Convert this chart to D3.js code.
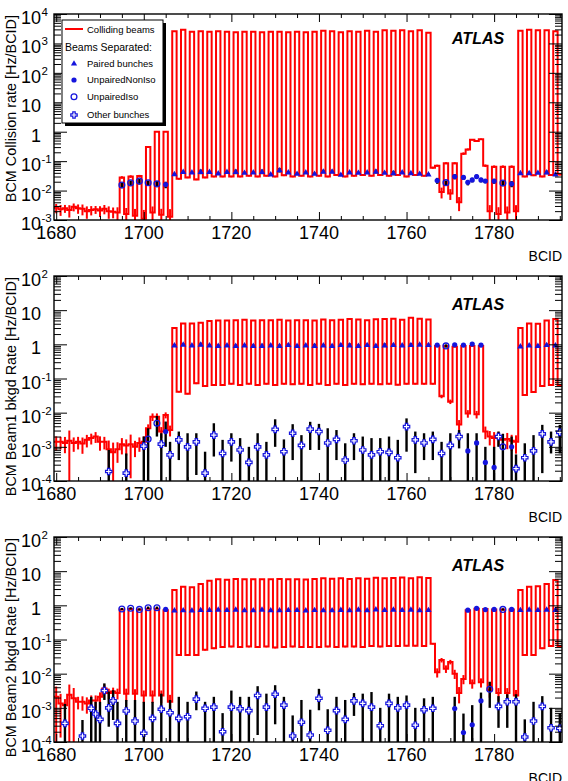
<!DOCTYPE html>
<html>
<head>
<meta charset="utf-8">
<script src="https://cdn.jsdelivr.net/npm/d3@7"></script>
<style>
body { margin: 0; background: #fff; }
svg text { font-family: "Liberation Sans", Arial, Helvetica, sans-serif; }
</style>
</head>
<body>
<svg width="568" height="781"></svg>
<script>
// **** data: one value per BCID, starting at firstBcid ****
var firstBcid = 1680;
var xMajor = [1680, 1700, 1720, 1740, 1760, 1780];
var xMinor = [1685, 1690, 1695, 1705, 1710, 1715, 1725, 1730, 1735, 1745, 1750, 1755, 1765, 1770, 1775, 1785, 1790, 1795];

// colliding beams (red histogram)
var p1Rate = [
  2.6e-3, 2.3e-3, 2.5e-3, 2.2e-3, 2.8e-3, 2.5e-3, 2.4e-3, 2.0e-3, 2.2e-3, 2.3e-3, 2.1e-3, 2.4e-3, 2.0e-3, 1.9e-3, 1.8e-3,
  .028, 1.6e-3, .030, 1.4e-3, .031, 1.1e-3, .30, 1.8e-3, 1.0, 1.5e-3, 1.0, 1.3e-3,
  2600, .025, 2900, .028, 2500, .024, 2600, .028, 2500, .030, 2600, .030, 2500, .030, 2400, .030, 2500, .032, 2500, .030,
  2400, .032, 2500, .030, 2500, .033, 2400, .030, 2500, .032, 2400, .030, 2500, .032, 2700, .030, 2600, .034, 2400, .030,
  2600, .032, 2500, .034, 2700, .032, 2500, .034, 2800, .032, 2700, .034, 2800, .030, 2600, .034, 2800, .032, 2300,
  .060, .070, .009, .085, .008, .085, .004, .18, .25, .53, .48, .56, .070, .0020, .065, .0016, .065, .0018, .065, .0020,
  2700, .030, 2900, .033, 2800, .030, 2800, .034, 2600, .035
];
var p1RateErr = [
  .35, .4, .3, .45, .3, .35, .4, .45, .35, .3, .4, .35, .45, .4, .5,
  .1, .6, .1, .7, .1, 1, .04, .6, .02, .6, .02, .8,
  0, .06, 0, .06, 0, .06, 0, .06, 0, .06,
  0, .06, 0, .06, 0, .06, 0, .06, 0, .06,
  0, .06, 0, .06, 0, .06, 0, .06, 0, .06,
  0, .06, 0, .06, 0, .06, 0, .06, 0, .06,
  0, .06, 0, .06, 0, .06, 0, .06, 0, .06,
  0, .06, 0, .06, 0, .06, 0, .06,
  0,
  .08, .08, .4, .08, .4, .08, .5, .1, .08, .05, .05, .05, .1, .6, .1, .7, .1, .6, .1, .6,
  0, .06, 0, .06, 0, .06, 0, .06, 0, .06
];

var p2Rate = [
  1.4e-3, 1.4e-3, 1.3e-3, 1.5e-3, 1.3e-3, 1.4e-3, 1.25e-3, 1.6e-3, 1.8e-3, 2.0e-3, 1.4e-3, 1.4e-3, 8.5e-4, 7e-4, 8.5e-4,
  1.2e-3, 1.1e-3, 1.2e-3, 1.0e-3, 1.3e-3, 1.4e-3, 3.5e-3, 7.6e-3, 7.6e-3, 2.8e-3, 8.5e-3, 3.1e-3,
  3.0, .041, 4.1, .036, 4.1, .072, 4.3, .06, 4.8, .065, 5.0, .065, 5.0, .07, 5.1, .065, 5.2, .07, 5.0, .065,
  5.1, .07, 5.1, .065, 5.2, .07, 5.0, .068, 5.1, .07, 5.1, .065, 5.0, .07, 5.3, .065, 5.1, .07, 5.2, .065,
  5.5, .07, 5.3, .068, 5.1, .07, 5.4, .068, 5.5, .07, 5.6, .066, 5.2, .07, 6.0, .07, 5.6, .07, 5.3,
  .07, .9, .03, .9, .021, .85, .0045, .9, .0095, .9, .009, .9, 2.8e-3, 2.0e-3, 1.8e-3, 1.9e-3, 1.6e-3, 1.7e-3, 1.5e-3, 1.4e-3,
  3.0, .033, 4.1, .04, 4.0, .06, 5.0, .065, 5.5, .065
];
var p2RateErr = [
  .45, .4, .5, 1, .45, .4, .5, .4, .35, .35, .45, .4, .8, .9, .6,
  .5, .5, .9, .5, .45, .45, .3, .25, .25, .35, .2, .35,
  0, .05, 0, .05, 0, .05, 0, .05, 0, .05,
  0, .05, 0, .05, 0, .05, 0, .05, 0, .05,
  0, .05, 0, .05, 0, .05, 0, .05, 0, .05,
  0, .05, 0, .05, 0, .05, 0, .05, 0, .05,
  0, .05, 0, .05, 0, .05, 0, .05, 0, .05,
  0, .05, 0, .05, 0, .05, 0, .05,
  0,
  .05, 0, .12, 0, .15, 0, .35, 0, .25, 0, .25, 0, .4, .45, .5, .45, .5, .5, .5, .55,
  0, .05, 0, .05, 0, .05, 0, .05, 0, .05
];

var p3Rate = [
  2.1e-3, 1.35e-3, 1.2e-3, 2.4e-3, 1.9e-3, 1.5e-3, 1.5e-3, 1.35e-3, 1.65e-3, 1.65e-3, 2.1e-3, 3.7e-3, 2.7e-3, 3.0e-3, 2.7e-3,
  .75, 2.6e-3, .78, 2.6e-3, .75, 2.3e-3, .8, 2.3e-3, .8, 2.3e-3, .72, 1.5e-3,
  2.8, .035, 3.5, .035, 3.4, .035, 4.2, .05, 5.2, .055, 5.8, .06, 5.6, .062, 5.9, .06, 5.8, .062, 5.8, .06,
  5.8, .062, 5.8, .058, 5.9, .06, 5.8, .062, 5.8, .06, 5.7, .06, 5.9, .06, 6.2, .062, 6.0, .06, 6.2, .062,
  5.9, .062, 6.2, .06, 6.0, .065, 6.4, .062, 6.2, .065, 6.3, .064, 6.5, .066, 6.2, .066, 6.6, .064, 6.3,
  .075, .011, .025, .014, .022, .010, .0027, .007, .72, .0052, .80, .0056, .78, .0033, .75, .0027, .75, .0027, .75, .0023,
  2.8, .035, 3.5, .035, 3.6, .055, 4.2, .065, 5.5, .065
];
var p3RateErr = [
  1, .9, .5, 1, 1, .4, .45, .5, .4, .4, .35, .3, .35, .3, .35,
  0, .4, 0, .35, 0, .4, 0, .4, 0, .4, 0, .6,
  0, .05, 0, .05, 0, .05, 0, .05, 0, .05,
  0, .05, 0, .05, 0, .05, 0, .05, 0, .05,
  0, .05, 0, .05, 0, .05, 0, .05, 0, .05,
  0, .05, 0, .05, 0, .05, 0, .05, 0, .05,
  0, .05, 0, .05, 0, .05, 0, .05, 0, .05,
  0, .05, 0, .05, 0, .05, 0, .05,
  0,
  .05, .3, .15, .25, .15, .3, .5, .3, 0, .3, 0, .3, 0, .4, 0, .4, 0, .4, 0, .45,
  0, .05, 0, .05, 0, .05, 0, .05, 0, .05
];

// beams separated: paired bunches (same BCIDs in every panel)
var pairedBcids = [1707, 1709, 1711, 1713, 1715, 1717, 1719, 1721, 1723, 1725, 1727, 1729, 1731, 1733, 1735,
  1737, 1739, 1741, 1743, 1745, 1747, 1749, 1751, 1753, 1755, 1757, 1759, 1761, 1763, 1765,
  1786, 1788, 1790, 1792, 1794];
var p1PairedVal = [.037, .044, .042, .044, .044, .039, .044, .044, .041, .042, .044, .036, .050, .042, .038,
  .042, .038, .045, .045, .035, .042, .041, .042, .045, .041, .040, .042, .040, .038, .036,
  .040, .040, .041, .042, .036];
var p1PairedErr = [.003, .003, .003, .008, .003, .003, .003, .008, .003, .003, .008, .003, .009, .003, .003,
  .003, .003, .006, .006, .003, .003, .003, .003, .007, .003, .007, .003, .003, .003, .003,
  .003, .004, .003, .006, .003];
var p2PairedVal = [.95, 1.0, .95, 1.0, .95, .92, .95, .92, .95, .92, .92, .95, .92, .97, .92,
  .95, .92, .95, .92, .97, .95, .92, .97, .92, .95, .97, .95, .97, 1.0, .97,
  .88, .95, .92, .97, .95];
var p2PairedErr = [.08, .08, .08, .12, .08, .08, .08, .08, .08, .08, .12, .08, .08, .08, .08,
  .08, .12, .08, .08, .08, .12, .08, .08, .08, .12, .08, .08, .12, .08, .08,
  .08, .08, .08, .08, .08];
var p3PairedVal = [.72, .73, .72, .74, .74, .76, .74, .76, .73, .73, .76, .73, .73, .74, .74,
  .72, .74, .73, .73, .75, .73, .76, .73, .77, .74, .76, .74, .76, .73, .74,
  .74, .76, .74, .76, .75];
var p3PairedErr = [.05, .05, .05, .05, .05, .05, .05, .05, .05, .05, .05, .05, .05, .05, .05,
  .05, .05, .05, .05, .05, .05, .05, .05, .05, .05, .05, .05, .05, .05, .05,
  .05, .05, .05, .05, .05];

// [bcid, value, lower edge, upper edge]  (0 = error bar runs off the bottom)
var p1NonIso = [[1705, .016, .012, .020], [1767, .022, .017, .027], [1771, .030, .024, .036], [1773, .028, .023, .033],
  [1774, .019, .015, .023], [1775, .023, .019, .027], [1776, .030, .025, .035], [1777, .023, .019, .027],
  [1778, .021, .018, .024], [1780, .021, .017, .025], [1784, .017, .013, .021]];
var p1Iso = [[1695, .0155, .012, .019], [1697, .0185, .014, .022], [1699, .021, .016, .025], [1701, .0185, .015, .022],
  [1703, .017, .013, .021], [1769, .0186, .015, .022], [1782, .018, .014, .022]];
var p1Other = [];

var p2NonIso = [[1705, 2.8e-3, 1.0e-3, 5.5e-3], [1767, .95, .85, 1.05], [1771, .97, .87, 1.07], [1773, .95, .85, 1.05],
  [1775, 1.02, .9, 1.14], [1777, .95, .85, 1.05], [1774, 7.6e-4, 0, 2.5e-3], [1776, 1.3e-3, 0, 2.5e-3],
  [1778, 3.5e-4, 0, 1.0e-3], [1780, 2.5e-4, 0, 1.0e-3], [1784, 1.0e-3, 0, 2.0e-3]];
var p2Iso = [[1701, 1.7e-3, 0, 3.5e-3], [1703, 4.9e-3, 2.0e-3, 8.0e-3], [1769, .9, .8, 1.0], [1782, 1.0e-3, 0, 2.4e-3]];
var p2Other = [
  [1692, 1.9e-4, 0, 8.1e-4], [1696, 1.7e-4, 0, 6.4e-4], [1700, 1.05e-3, 0, 2.0e-3], [1704, 1.2e-3, 0, 2.5e-3],
  [1706, 5.8e-4, 0, 1.4e-3], [1708, 1.6e-3, 4.1e-4, 2.8e-3], [1710, 1.0e-3, 0, 2.5e-3], [1712, 1.4e-3, 1.5e-4, 2.5e-3],
  [1714, 1.7e-4, 0, 7.2e-4], [1716, 2.2e-3, 5.2e-4, 4.9e-3], [1718, 6.4e-4, 0, 1.6e-3], [1720, 1.4e-3, 3.7e-4, 2.5e-3],
  [1722, 8.1e-4, 0, 1.8e-3], [1724, 3.5e-4, 0, 1.0e-3], [1726, 1.0e-3, 0, 2.5e-3], [1728, 5.8e-4, 0, 1.4e-3],
  [1730, 3.25e-3, 1.0e-3, 6.4e-3], [1732, 7.2e-4, 0, 1.65e-3], [1734, 2.5e-3, 4.1e-4, 4.6e-3], [1736, 1.1e-3, 0, 2.2e-3],
  [1738, 3.3e-3, 8.1e-4, 5.4e-3], [1740, 2.8e-3, 8.1e-4, 4.7e-3], [1742, 1.3e-3, 0, 3.5e-3], [1744, 1.65e-3, 4.1e-4, 3.1e-3],
  [1746, 4.1e-4, 0, 1.27e-3], [1748, 1.5e-3, 4.1e-4, 2.5e-3], [1750, 8.1e-4, 0, 2.0e-3], [1752, 5.8e-4, 0, 1.8e-3],
  [1754, 7.2e-4, 0, 1.8e-3], [1756, 6.9e-4, 0, 2.0e-3], [1758, 4.8e-4, 0, 1.6e-3], [1760, 3.9e-3, 7.2e-4, 6.8e-3],
  [1762, 1.6e-3, 1.7e-4, 2.8e-3], [1764, 1.3e-3, 4.1e-4, 2.5e-3], [1766, 1.65e-3, 4.1e-4, 2.8e-3], [1768, 6.4e-4, 0, 1.4e-3],
  [1770, 1.1e-3, 0, 2.5e-3], [1772, 2.0e-3, 9e-4, 3.1e-3], [1781, 2.0e-3, 1.0e-3, 2.8e-3], [1785, 2.3e-4, 0, 6e-4],
  [1787, 4.8e-4, 0, 1.27e-3], [1789, 7.6e-4, 0, 2.2e-3], [1791, 2.4e-3, 1.7e-4, 4.4e-3], [1793, 1.4e-3, 6.4e-4, 2.8e-3],
  [1795, 2.65e-3, 6.4e-4, 4.4e-3]
];

var p3NonIso = [[1705, .76, .7, .82], [1774, .72, .66, .78], [1776, .82, .75, .89], [1778, .75, .69, .81],
  [1780, .76, .7, .82], [1784, .76, .7, .82], [1771, 9.5e-4, 0, 2.1e-3], [1773, 1.9e-4, 0, 6.8e-4],
  [1775, 3.2e-4, 0, 1.2e-3], [1777, 1.6e-3, 0, 2.8e-3]];
var p3Iso = [[1695, .78, .72, .84], [1697, .82, .76, .88], [1699, .76, .7, .82], [1701, .85, .78, .92],
  [1703, .85, .78, .92], [1782, .76, .7, .82], [1779, 3.5e-3, 1.0e-3, 5.8e-3]];
var p3Other = [
  [1682, 3.5e-4, 0, 1.3e-3], [1686, 1.5e-4, 0, 4.4e-4], [1688, 9.7e-4, 0, 2.1e-3], [1689, 6.6e-4, 0, 1.5e-3],
  [1690, 4.6e-4, 0, 1.5e-3], [1691, 3.2e-3, 1.7e-3, 5.2e-3], [1692, 1.0e-3, 2.8e-4, 3.0e-3], [1693, 1.6e-3, 4.4e-4, 3.3e-3],
  [1694, 3.5e-4, 0, 1.5e-3], [1696, 8.1e-4, 0, 1.7e-3], [1698, 4.1e-4, 0, 1.7e-3], [1700, 1.8e-4, 0, 1.5e-3],
  [1702, 4.9e-4, 0, 1.5e-3], [1704, 9.1e-4, 0, 2.6e-3], [1706, 7.2e-4, 0, 1.7e-3], [1708, 4.9e-4, 0, 2.1e-3],
  [1710, 5.5e-4, 0, 1.5e-3], [1712, 1.8e-3, 8.5e-4, 3.0e-3], [1714, 9.7e-4, 0, 1.5e-3], [1716, 1.05e-3, 0, 2.1e-3],
  [1718, 2.0e-4, 0, 7.0e-4], [1720, 1.05e-3, 0, 3.2e-3], [1722, 9.4e-4, 0, 2.1e-3], [1724, 8.3e-4, 0, 2.1e-3],
  [1726, 2.3e-3, 1.6e-4, 4.3e-3], [1728, 1.05e-3, 0, 2.6e-3], [1730, 2.5e-3, 3.3e-4, 4.6e-3], [1732, 1.2e-3, 0, 2.1e-3],
  [1734, 1.5e-4, 0, 6.0e-4], [1736, 3.8e-4, 0, 1.7e-3], [1738, 1.6e-4, 0, 8.8e-4], [1740, 1.9e-3, 8.5e-4, 3.6e-3],
  [1742, 2.2e-4, 0, 9.1e-4], [1744, 8.3e-4, 0, 2.1e-3], [1746, 4.6e-4, 0, 1.7e-3], [1748, 1.6e-3, 5.8e-4, 2.7e-3],
  [1750, 1.35e-3, 0, 2.6e-3], [1752, 1.05e-3, 0, 2.9e-3], [1754, 3.0e-4, 0, 1.0e-3], [1756, 1.35e-3, 0, 2.6e-3],
  [1758, 1.0e-3, 0, 2.1e-3], [1760, 1.2e-3, 0, 2.3e-3], [1762, 3.1e-4, 0, 1.0e-3], [1764, 8.8e-4, 0, 1.9e-3],
  [1766, 9.7e-4, 0, 2.1e-3], [1781, 1.1e-3, 2.6e-4, 2.2e-3], [1783, 1.5e-3, 2.6e-4, 2.5e-3], [1785, 1.5e-3, 0, 2.5e-3],
  [1787, 1.4e-4, 0, 4.6e-4], [1789, 4.1e-4, 0, 1.5e-3], [1791, 1.1e-3, 0, 2.2e-3], [1793, 2.6e-4, 0, 1.0e-3],
  [1795, 2.5e-4, 0, 7.0e-4]
];

var legendItems = ["Paired bunches", "UnpairedNonIso", "UnpairedIso", "Other bunches"];

// **** layout ****
var svg = d3.select('svg');
var RED = '#ff0000', BLUE = '#1515dd';
var xScale = d3.scaleLinear().domain([1679.5, 1795.5]).range([54, 562]);

var panels = [
  {rate: p1Rate, err: p1RateErr, pVal: p1PairedVal, pErr: p1PairedErr, nonIso: p1NonIso, iso: p1Iso, other: p1Other,
   yMin: 1e-3, yMax: 1e4, top: 14, bottom: 220, title: 'BCM Collision rate [Hz/BCID]', atlasY: 44, legend: true},
  {rate: p2Rate, err: p2RateErr, pVal: p2PairedVal, pErr: p2PairedErr, nonIso: p2NonIso, iso: p2Iso, other: p2Other,
   yMin: 1e-4, yMax: 1e2, top: 276, bottom: 481, title: 'BCM Beam1 bkgd Rate [Hz/BCID]', atlasY: 310, legend: false},
  {rate: p3Rate, err: p3RateErr, pVal: p3PairedVal, pErr: p3PairedErr, nonIso: p3NonIso, iso: p3Iso, other: p3Other,
   yMin: 1e-4, yMax: 1e2, top: 537, bottom: 742, title: 'BCM Beam2 bkgd Rate [Hz/BCID]', atlasY: 571, legend: false}
];

function crossPath(a, w) {
  return 'M' + (-w) + ',' + (-a) + 'L' + w + ',' + (-a) + 'L' + w + ',' + (-w) + 'L' + a + ',' + (-w) +
    'L' + a + ',' + w + 'L' + w + ',' + w + 'L' + w + ',' + a + 'L' + (-w) + ',' + a +
    'L' + (-w) + ',' + w + 'L' + (-a) + ',' + w + 'L' + (-a) + ',' + (-w) + 'L' + (-w) + ',' + (-w) + 'Z';
}
var triPath = d3.symbol(d3.symbolTriangle).size(17)();

function drawMarker(g, kind, px, py) {
  if (kind === 'tri') {
    g.append('path').attr('d', triPath).attr('transform', 'translate(' + px + ',' + (py + 0.5) + ')').attr('fill', BLUE);
  } else if (kind === 'dot') {
    g.append('circle').attr('cx', px).attr('cy', py).attr('r', 2.6).attr('fill', BLUE);
  } else if (kind === 'ring') {
    g.append('circle').attr('cx', px).attr('cy', py).attr('r', 2.9).attr('fill', 'none')
      .attr('stroke', BLUE).attr('stroke-width', 1.3);
  } else {
    g.append('path').attr('d', crossPath(3.2, 1.2)).attr('transform', 'translate(' + px + ',' + py + ')')
      .attr('fill', '#fff').attr('stroke', BLUE).attr('stroke-width', 1.2);
  }
}

function drawPanel(p, idx) {
  var y = d3.scaleLog().domain([p.yMin, p.yMax]).range([p.bottom, p.top]);
  var yv = function(v) { return v <= 0 ? p.bottom + 10 : y(v); };

  svg.append('clipPath').attr('id', 'clip' + idx).append('rect')
    .attr('x', 54).attr('y', p.top).attr('width', 508).attr('height', p.bottom - p.top);
  var plot = svg.append('g').attr('clip-path', 'url(#clip' + idx + ')');

  // red step histogram with its error bars
  var pts = [];
  p.rate.forEach(function(v, i) {
    var b = firstBcid + i;
    pts.push([xScale(b - 0.5), y(v)], [xScale(b + 0.5), y(v)]);
  });
  p.rate.forEach(function(v, i) {
    var e = p.err[i];
    if (e > 0) {
      var b = firstBcid + i;
      plot.append('line').attr('x1', xScale(b)).attr('x2', xScale(b))
        .attr('y1', yv(v * (1 - e))).attr('y2', y(v * (1 + e)))
        .attr('stroke', RED).attr('stroke-width', 2);
    }
  });
  plot.append('path').attr('d', d3.line()(pts)).attr('fill', 'none')
    .attr('stroke', RED).attr('stroke-width', 2).attr('stroke-linejoin', 'miter');

  // black error bars of the separated-beam points, then the markers
  var rows = [];
  pairedBcids.forEach(function(b, i) {
    rows.push({b: b, v: p.pVal[i], lo: p.pVal[i] - p.pErr[i], hi: p.pVal[i] + p.pErr[i], kind: 'tri'});
  });
  p.nonIso.forEach(function(d) { rows.push({b: d[0], v: d[1], lo: d[2], hi: d[3], kind: 'dot'}); });
  p.iso.forEach(function(d) { rows.push({b: d[0], v: d[1], lo: d[2], hi: d[3], kind: 'ring'}); });
  p.other.forEach(function(d) { rows.push({b: d[0], v: d[1], lo: d[2], hi: d[3], kind: 'cross'}); });

  rows.forEach(function(d) {
    plot.append('line').attr('x1', xScale(d.b)).attr('x2', xScale(d.b))
      .attr('y1', yv(d.lo)).attr('y2', y(d.hi))
      .attr('stroke', '#000').attr('stroke-width', 2.4);
  });
  rows.forEach(function(d) { drawMarker(plot, d.kind, xScale(d.b), y(d.v)); });

  // ticks
  var yTicks = y.ticks();
  var isMajor = function(t) { var l = Math.log10(t); return Math.abs(l - Math.round(l)) < 1e-6; };
  var yMaj = yTicks.filter(isMajor), yMin = yTicks.filter(function(t) { return !isMajor(t); });

  function axisG(axis, tx, ty) {
    var a = svg.append('g').attr('transform', 'translate(' + tx + ',' + ty + ')').call(axis);
    a.select('.domain').remove();
    a.selectAll('text').remove();
    a.selectAll('line').attr('stroke', '#000');
    return a;
  }
  axisG(d3.axisLeft(y).tickValues(yMin).tickSize(-7), 54, 0);
  axisG(d3.axisLeft(y).tickValues(yMaj).tickSize(-13), 54, 0);
  axisG(d3.axisRight(y).tickValues(yMin).tickSize(-7), 562, 0);
  axisG(d3.axisRight(y).tickValues(yMaj).tickSize(-13), 562, 0);
  axisG(d3.axisBottom(xScale).tickValues(xMinor).tickSize(-4), 0, p.bottom);
  axisG(d3.axisBottom(xScale).tickValues(xMajor).tickSize(-8), 0, p.bottom);
  axisG(d3.axisTop(xScale).tickValues(xMinor).tickSize(-4), 0, p.top);
  axisG(d3.axisTop(xScale).tickValues(xMajor).tickSize(-8), 0, p.top);

  // frame
  svg.append('rect').attr('x', 54).attr('y', p.top).attr('width', 508).attr('height', p.bottom - p.top)
    .attr('fill', 'none').attr('stroke', '#000').attr('stroke-width', 1.4);

  // y labels 10^n
  yMaj.forEach(function(t) {
    var e = Math.round(Math.log10(t));
    svg.append('text').text(e === 0 ? '1' : '10').attr('x', 41).attr('y', y(t) + 10)
      .attr('text-anchor', 'end').style('font-size', '18px');
    if (e !== 0 && e !== 1) {
      svg.append('text').text(String(e)).attr('x', 41.5).attr('y', y(t) + 2)
        .style('font-size', '11.5px');
    }
  });
  // x labels
  xMajor.forEach(function(b) {
    svg.append('text').text(b).attr('x', xScale(b)).attr('y', p.bottom + 19)
      .attr('text-anchor', 'middle').style('font-size', '18px');
  });
  svg.append('text').text('BCID').attr('x', 562).attr('y', p.bottom + 41)
    .attr('text-anchor', 'end').style('font-size', '14px');
  svg.append('text').text(p.title).attr('text-anchor', 'end').style('font-size', '14.4px')
    .attr('transform', 'translate(15.5,' + (p.top + 1) + ') rotate(-90)');
  svg.append('text').text('ATLAS').attr('x', 452).attr('y', p.atlasY)
    .style('font-size', '16px').style('font-weight', 'bold').style('font-style', 'italic');

  if (p.legend) drawLegend();
}

function drawLegend() {
  var lg = svg.append('g');
  lg.append('rect').attr('x', 65).attr('y', 23).attr('width', 101).attr('height', 103).attr('fill', '#000');
  lg.append('rect').attr('x', 62).attr('y', 20).attr('width', 101).attr('height', 103)
    .attr('fill', '#fff').attr('stroke', '#000').attr('stroke-width', 1);
  lg.append('line').attr('x1', 65).attr('x2', 83).attr('y1', 29).attr('y2', 29)
    .attr('stroke', RED).attr('stroke-width', 2);
  lg.append('text').text('Colliding beams').attr('x', 87).attr('y', 32.5).style('font-size', '9.5px');
  lg.append('text').text('Beams Separated:').attr('x', 65).attr('y', 50.5).style('font-size', '10.5px');
  var kinds = ['tri', 'dot', 'ring', 'cross'];
  var rowY = [63.3, 80, 96.7, 115];
  legendItems.forEach(function(name, i) {
    drawMarker(lg, kinds[i], 74, rowY[i]);
    lg.append('text').text(name).attr('x', 87).attr('y', rowY[i] + 3.4).style('font-size', '9.5px');
  });
}

panels.forEach(drawPanel);
</script>
</body>
</html>
